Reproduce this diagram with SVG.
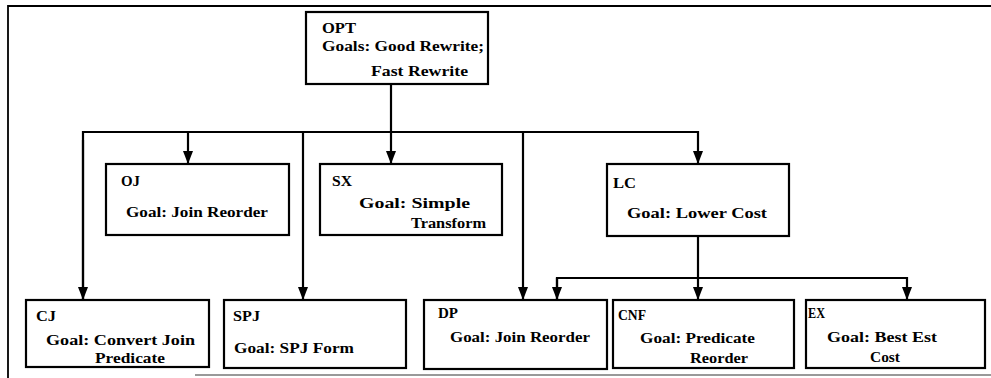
<svg xmlns="http://www.w3.org/2000/svg" width="991" height="378" viewBox="0 0 991 378">
<style>
.box{fill:#fff;stroke:#000;stroke-width:2.2}
.t{font-family:'Liberation Serif','DejaVu Serif',serif;font-weight:700;font-size:15px;fill:#000}
.c{fill:none;stroke:#000;stroke-width:2.2}
.frame{fill:none;stroke:#000;stroke-width:1.8}
</style>
<defs>
<marker id="a" markerUnits="userSpaceOnUse" markerWidth="15" markerHeight="11" refX="13" refY="5.5" orient="auto" viewBox="0 0 15 11">
<path d="M0,0.5 L13,5.5 L0,10.5 Z" fill="#000"/>
</marker>
</defs>
<g id="frame">
<path class="frame" d="M991,6 H8 V378"/>
<path d="M195,375 H991" fill="none" stroke="#777" stroke-width="1.6"/>
</g>
<g id="connectors">
<path class="c" d="M391,84 V164" marker-end="url(#a)"/>
<path class="c" d="M83,300 V132 H698 V164" marker-end="url(#a)"/>
<path class="c" d="M83,140 V300" marker-end="url(#a)"/>
<path class="c" d="M188,132 V164" marker-end="url(#a)"/>
<path class="c" d="M303,132 V300" marker-end="url(#a)"/>
<path class="c" d="M523,132 V300" marker-end="url(#a)"/>
<path class="c" d="M698,236 V300" marker-end="url(#a)"/>
<path class="c" d="M557,300 V278 H907 V300" marker-end="url(#a)"/>
<path class="c" d="M557,278 V300" marker-end="url(#a)"/>
</g>
<g id="OPT">
<rect class="box" x="306" y="12" width="182" height="72"/>
<text class="t" x="322" y="33" textLength="34" lengthAdjust="spacingAndGlyphs">OPT</text>
<text class="t" x="322" y="51" textLength="162" lengthAdjust="spacingAndGlyphs">Goals: Good Rewrite;</text>
<text class="t" x="371" y="76" textLength="97" lengthAdjust="spacingAndGlyphs">Fast Rewrite</text>
</g>
<g id="OJ">
<rect class="box" x="106" y="164" width="183" height="71"/>
<text class="t" x="121" y="186" textLength="19" lengthAdjust="spacingAndGlyphs">OJ</text>
<text class="t" x="126" y="217" textLength="142" lengthAdjust="spacingAndGlyphs">Goal: Join Reorder</text>
</g>
<g id="SX">
<rect class="box" x="320" y="164" width="182" height="71"/>
<text class="t" x="332" y="186" textLength="20" lengthAdjust="spacingAndGlyphs">SX</text>
<text class="t" x="359" y="208" textLength="111" lengthAdjust="spacingAndGlyphs">Goal: Simple</text>
<text class="t" x="411" y="228" textLength="75" lengthAdjust="spacingAndGlyphs">Transform</text>
</g>
<g id="LC">
<rect class="box" x="607" y="164" width="182" height="72"/>
<text class="t" x="613" y="188" textLength="23" lengthAdjust="spacingAndGlyphs">LC</text>
<text class="t" x="627" y="218" textLength="140" lengthAdjust="spacingAndGlyphs">Goal: Lower Cost</text>
</g>
<g id="CJ">
<rect class="box" x="26" y="300" width="183" height="67"/>
<text class="t" x="36" y="321" textLength="20" lengthAdjust="spacingAndGlyphs">CJ</text>
<text class="t" x="46" y="345" textLength="149" lengthAdjust="spacingAndGlyphs">Goal: Convert Join</text>
<text class="t" x="95" y="363" textLength="70" lengthAdjust="spacingAndGlyphs">Predicate</text>
</g>
<g id="SPJ">
<rect class="box" x="224" y="300" width="182" height="68"/>
<text class="t" x="233" y="321" textLength="27" lengthAdjust="spacingAndGlyphs">SPJ</text>
<text class="t" x="234" y="353" textLength="120" lengthAdjust="spacingAndGlyphs">Goal: SPJ Form</text>
</g>
<g id="DP">
<rect class="box" x="424" y="300" width="183" height="69"/>
<text class="t" x="438" y="318" textLength="20" lengthAdjust="spacingAndGlyphs">DP</text>
<text class="t" x="450" y="342" textLength="140" lengthAdjust="spacingAndGlyphs">Goal: Join Reorder</text>
</g>
<g id="CNF">
<rect class="box" x="613" y="300" width="181" height="68"/>
<text class="t" x="618" y="320" textLength="28" lengthAdjust="spacingAndGlyphs">CNF</text>
<text class="t" x="640" y="343" textLength="115" lengthAdjust="spacingAndGlyphs">Goal: Predicate</text>
<text class="t" x="690" y="363" textLength="58" lengthAdjust="spacingAndGlyphs">Reorder</text>
</g>
<g id="EX">
<rect class="box" x="806" y="300" width="179" height="68"/>
<text class="t" x="808" y="318" textLength="17" lengthAdjust="spacingAndGlyphs">EX</text>
<text class="t" x="827" y="342" textLength="110" lengthAdjust="spacingAndGlyphs">Goal: Best Est</text>
<text class="t" x="870" y="362" textLength="30" lengthAdjust="spacingAndGlyphs">Cost</text>
</g>
</svg>
